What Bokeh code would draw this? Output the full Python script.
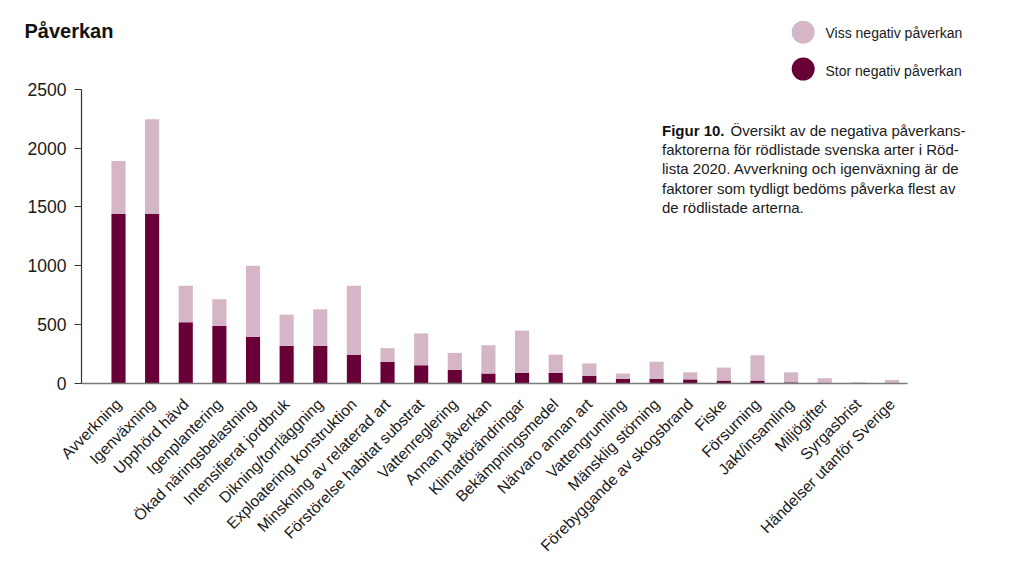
import math
from bokeh.plotting import figure
from bokeh.models import ColumnDataSource, FixedTicker, Label
from bokeh.embed import file_html
from bokeh.resources import INLINE

# ---------------- data ----------------
categories = [
    "Avverkning", "Igenväxning", "Upphörd hävd", "Igenplantering",
    "Ökad näringsbelastning", "Intensifierat jordbruk", "Dikning/torrläggning",
    "Exploatering konstruktion", "Minskning av relaterad art",
    "Förstörelse habitat substrat", "Vattenreglering", "Annan påverkan",
    "Klimatförändringar", "Bekämpningsmedel", "Närvaro annan art",
    "Vattengrumling", "Mänsklig störning", "Förebyggande av skogsbrand",
    "Fiske", "Försurning", "Jakt/insamling", "Miljögifter", "Syrgasbrist",
    "Händelser utanför Sverige",
]
stor = [1440, 1440, 520, 490, 395, 320, 320, 245, 185, 155, 115, 85,
        90, 90, 65, 40, 40, 35, 25, 25, 10, 3, 0, 0]
viss = [450, 805, 310, 225, 605, 265, 310, 585, 115, 270, 145, 240,
        360, 155, 105, 45, 145, 60, 110, 215, 85, 42, 10, 30]
series_names = ["Stor negativ påverkan", "Viss negativ påverkan"]
y_ticks = [0, 500, 1000, 1500, 2000, 2500]
title_text = "Påverkan"
caption_bold = "Figur 10."
caption_lines = [
    "Översikt av de negativa påverkans-",
    "faktorerna för rödlistade svenska arter i Röd-",
    "lista 2020. Avverkning och igenväxning är de",
    "faktorer som tydligt bedöms påverka flest av",
    "de rödlistade arterna.",
]

# ---------------- styles / layout ----------------
DARK = "#680037"
LIGHT = "#d4b6c6"
FONT = "Liberation Sans"
W, H = 1008, 557
ZERO_Y = 383              # canvas px of value 0
AXIS_X = 81               # y-axis position (canvas px)
FIRST_BAR = 118           # centre of first bar (canvas px)
step = 33.63              # px per category
ppu = 294.3 / 2500        # px per unit on y
x0 = -FIRST_BAR / step
x1 = x0 + W / step
y0 = -(H - ZERO_Y) / ppu
y1 = ZERO_Y / ppu
TXT = -5.5                # baseline correction for labels


def dx(px):
    return x0 + px / step


def dy(py):
    return (ZERO_Y - py) / ppu


src = ColumnDataSource(dict(x=list(range(len(categories))), stor=stor, viss=viss))

p = figure(width=W, height=H, x_range=(x0, x1), y_range=(y0, y1),
           output_backend="svg", toolbar_location=None,
           min_border_left=0, min_border_right=0, min_border_top=0,
           min_border_bottom=0)
p.outline_line_color = None
p.grid.visible = False
p.background_fill_color = "white"
p.border_fill_color = "white"

p.vbar_stack(["stor", "viss"], x="x", width=0.42, fill_color=[DARK, LIGHT],
             line_color=None, source=src)

# y axis
ya = p.yaxis[0]
ya.fixed_location = dx(AXIS_X)
ya.bounds = (0, 2500)
ya.ticker = FixedTicker(ticks=y_ticks)
ya.major_tick_out = 7
ya.major_tick_in = 0
ya.minor_tick_out = 0
ya.minor_tick_in = 0
ya.axis_line_color = "#333333"
ya.axis_line_width = 1.2
ya.major_tick_line_color = "#333333"
ya.major_tick_line_width = 1.2
ya.major_label_text_font = FONT
ya.major_label_text_font_size = "17.5px"
ya.major_label_text_color = "#1a1a1a"
ya.major_label_standoff = 8

# x axis
xa = p.xaxis[0]
xa.fixed_location = 0
xa.bounds = (dx(AXIS_X), len(categories) - 0.55)
xa.ticker = FixedTicker(ticks=list(range(len(categories))))
xa.major_label_overrides = {i: c for i, c in enumerate(categories)}
xa.major_label_orientation = math.pi / 4
xa.major_tick_out = 0
xa.major_tick_in = 0
xa.minor_tick_out = 0
xa.minor_tick_in = 0
xa.axis_line_color = "#7a7a7a"
xa.axis_line_width = 1.5
xa.major_label_text_font = FONT
xa.major_label_text_font_size = "15.7px"
xa.major_label_text_color = "#1a1a1a"
xa.major_label_standoff = 18

# title
p.add_layout(Label(x=dx(24), y=dy(35.7 + TXT), text=title_text, text_font=FONT,
                   text_font_size="20px", text_font_style="bold",
                   text_color="#111111", text_baseline="alphabetic"))

# legend (top to bottom: Viss, Stor)
leg_names = [series_names[1], series_names[0]]
leg_colors = [LIGHT, DARK]
leg_cy = [31.7, 68.5]
leg_ty = [38.4, 75.6]
p.scatter(x=[dx(802.7)] * 2, y=[dy(v) for v in leg_cy], size=23,
          fill_color=leg_colors, line_color=None, marker="circle")
for name, ty in zip(leg_names, leg_ty):
    p.add_layout(Label(x=dx(825), y=dy(ty + TXT), text=name, text_font=FONT,
                       text_font_size="14px", text_color="#1a1a1a",
                       text_baseline="alphabetic"))

# caption
base = [135.5, 154.7, 173.9, 193.1, 212.3]
p.add_layout(Label(x=dx(661.5), y=dy(base[0] + TXT), text=caption_bold, text_font=FONT,
                   text_font_size="15px", text_font_style="bold",
                   text_color="#111111", text_baseline="alphabetic"))
for i, line in enumerate(caption_lines):
    xx = 730 if i == 0 else 661.5
    p.add_layout(Label(x=dx(xx), y=dy(base[i] + TXT), text=line, text_font=FONT,
                       text_font_size="15px", text_color="#1a1a1a",
                       text_baseline="alphabetic"))

open("out.html", "w").write(file_html(p, INLINE))
